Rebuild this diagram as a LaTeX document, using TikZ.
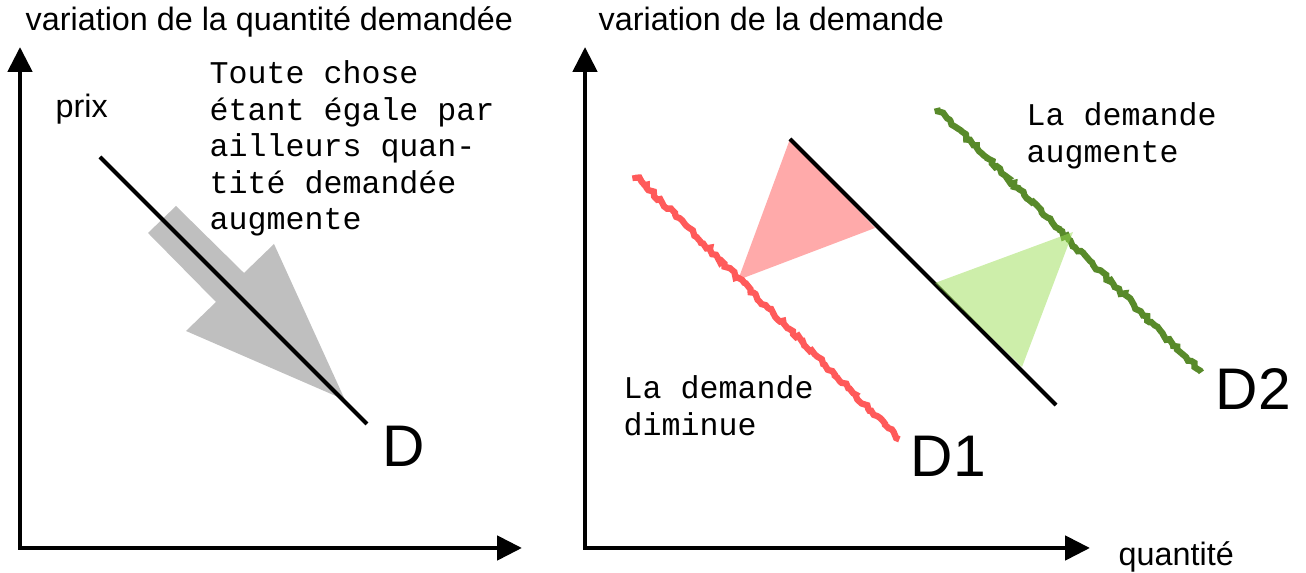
\documentclass[tikz,border=0pt]{standalone}
\usepackage{fontspec}
\setmainfont{Liberation Sans}
\newfontfamily\courier{Liberation Mono}
\usetikzlibrary{arrows.meta,decorations.pathmorphing}

\definecolor{rouge}{HTML}{FF5A5A}
\definecolor{rose}{HTML}{FFAAAA}
\definecolor{vert}{HTML}{588A2A}
\definecolor{vertclair}{HTML}{9BDD55}
\definecolor{gris}{HTML}{BFBFBF}

\tikzset{
  axes/.style={line width=1.4pt,{Triangle[length=0.25cm,width=0.24cm]}-{Triangle[length=0.25cm,width=0.24cm]}},
  courbe/.style={line width=1.15pt},
  rugueux/.style={line width=1.8pt,decorate,decoration={random steps,segment length=0.9pt,amplitude=0.55pt}},
  note/.style={font=\courier\fontsize{9}{10.4}\selectfont,align=left,inner sep=0pt,anchor=north west},
  titre/.style={font=\fontsize{9.2}{11}\selectfont,inner sep=0pt,anchor=base west},
  etiq/.style={font=\fontsize{16.7}{20}\selectfont,inner sep=0pt,anchor=base west}
}

\begin{document}
\begin{tikzpicture}
  \useasboundingbox (0,0) rectangle (13.06,5.73);
  % variation de la quantite demandee
  \draw[axes] (0.20,5.26) -- (0.20,0.25) -- (5.22,0.25);
  \node[titre] (titreq) at (0.25,5.42) {variation de la quantité demandée};
  \node[titre] (prix) at (0.55,4.55) {prix};
  \fill[gris] (1.48,3.40) -- (1.76,3.67) -- (2.44,3.00) -- (2.74,3.29) -- (3.45,1.73)
    -- (1.86,2.42) -- (2.16,2.71) -- cycle;
  \coordinate (Dhaut) at (1.00,4.16);
  \coordinate (Dbas) at (3.67,1.49);
  \draw[courbe] (Dhaut) -- (Dbas);
  \node[etiq] (D) at (3.82,1.06) {D};
  \node[note] (toute) at (2.09,5.13) {Toute chose\\étant égale par\\ailleurs quan-\\tité demandée\\augmente};
  % variation de la demande
  \draw[axes] (5.85,5.26) -- (5.85,0.25) -- (10.90,0.25);
  \node[titre] (titred) at (5.98,5.42) {variation de la demande};
  \node[titre] (quantite) at (11.18,0.07) {quantité};
  \coordinate (Mhaut) at (7.90,4.34);
  \coordinate (Mbas) at (10.56,1.68);
  \fill[rose] (Mhaut) -- (8.75,3.45) -- (7.38,2.93) -- cycle;
  \draw[courbe] (Mhaut) -- (Mbas);
  \coordinate (Rhaut) at (6.35,3.98);
  \coordinate (Rbas) at (9.00,1.33);
  \draw[rugueux,rouge] (Rhaut) -- (Rbas);
  \coordinate (Vhaut) at (9.37,4.65);
  \coordinate (Vbas) at (12.02,2.00);
  \draw[rugueux,vert] (Vhaut) -- (Vbas);
  \fill[vertclair,opacity=0.5] (9.35,2.90) -- (10.73,3.41) -- (10.22,2.06) -- cycle;
  \node[etiq] (D1) at (9.10,0.96) {D1};
  \node[etiq] (D2) at (12.15,1.63) {D2};
  \node[note] (diminue) at (6.23,1.98) {La demande\\diminue};
  \node[note] (augmente) at (10.26,4.71) {La demande\\augmente};
\end{tikzpicture}
\end{document}
